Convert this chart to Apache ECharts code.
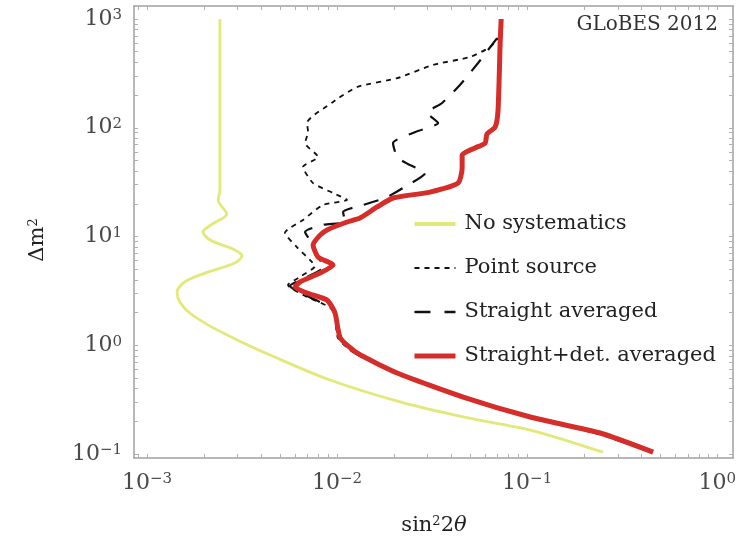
<!DOCTYPE html>
<html>
<head>
<meta charset="utf-8">
<script src="https://cdn.jsdelivr.net/npm/echarts@6.0.0/dist/echarts.min.js"></script>
<style>
  html, body { margin: 0; padding: 0; background: #fff; }
  #chart { width: 745px; height: 540px; }
</style>
</head>
<body>
<div id="chart"></div>
<script>
// axis ranges (frame sits a little outside the decades)
const xMin = 0.000855, xMax = 1.21;
const yMin = 0.0919, yMax = 1317;
const xMajor = [0.001, 0.01, 0.1, 1];
const yMajor = [0.1, 1, 10, 100, 1000];

// No systematics
const noSysX = [0.00242, 0.00242, 0.00237, 0.00263, 0.00220, 0.00197, 0.00215, 0.00290, 0.00316, 0.00290, 0.00202, 0.00158, 0.00144, 0.00149, 0.00168, 0.00215, 0.00308, 0.00444, 0.00918, 0.0215, 0.0461, 0.104, 0.25];
const noSysY = [1000, 26.8, 21.7, 16.1, 13.0, 11.0, 9.29, 7.52, 6.62, 5.70, 4.61, 3.82, 3.09, 2.50, 1.98, 1.50, 1.09, 0.813, 0.479, 0.301, 0.219, 0.166, 0.104];

// Point source
const pointX = [0.0721, 0.0639, 0.0501, 0.0320, 0.0207, 0.01275, 0.00953, 0.00695, 0.00704, 0.00679, 0.00794, 0.00662, 0.00748, 0.00953, 0.01129, 0.00844, 0.00662, 0.00532, 0.00615, 0.00721, 0.00766, 0.00638, 0.00552, 0.00679, 0.00953, 0.0101, 0.01229, 0.0203, 0.0455, 0.1013, 0.237, 0.448];
const pointY = [698, 553, 448, 378, 286, 237, 172.6, 110.7, 91.4, 72.4, 53.9, 43.6, 31.0, 25.1, 21.7, 19.5, 14.2, 10.8, 8.00, 6.08, 5.36, 4.25, 3.58, 2.84, 2.11, 1.17, 0.849, 0.556, 0.334, 0.219, 0.153, 0.104];

// Straight averaged
const straightX = [0.0695, 0.0552, 0.0443, 0.0357, 0.0298, 0.0340, 0.0258, 0.0197, 0.0207, 0.0236, 0.0291, 0.0222, 0.0179, 0.01371, 0.01076, 0.01101, 0.00844, 0.00679, 0.00748, 0.00794, 0.00865, 0.00679, 0.00566, 0.00679, 0.00953, 0.0103, 0.0124, 0.0205, 0.0455, 0.1025, 0.240, 0.454];
const straightY = [668, 394, 247, 169, 137, 110.7, 91.4, 72.4, 53.9, 46.4, 38.4, 27.9, 22.6, 19.5, 16.8, 13.6, 12.8, 11.0, 8.36, 6.34, 5.36, 4.15, 3.51, 2.90, 2.11, 1.17, 0.849, 0.556, 0.334, 0.219, 0.153, 0.104];

// Straight+det. averaged
const detX = [0.0730, 0.0721, 0.0703, 0.0679, 0.0615, 0.0601, 0.0532, 0.0455, 0.0455, 0.0433, 0.0308, 0.0197, 0.01625, 0.01321, 0.01129, 0.00886, 0.00814, 0.00748, 0.00794, 0.00953, 0.00814, 0.00638, 0.00601, 0.00695, 0.00886, 0.00976, 0.0104, 0.01275, 0.0207, 0.0461, 0.1038, 0.242, 0.460];
const detY = [1000, 601, 145.6, 101.6, 87.8, 72.4, 65.2, 56.1, 42.7, 31.0, 25.6, 22.6, 18.7, 14.8, 13.6, 11.5, 10.3, 8.36, 6.48, 5.47, 4.61, 3.82, 3.43, 3.02, 2.60, 1.98, 1.17, 0.849, 0.556, 0.334, 0.219, 0.156, 0.104];

const names = ['No systematics', 'Point source', 'Straight averaged', 'Straight+det. averaged'];
const colors = ['#e2e879', '#111', '#111', '#d42d2a'];

function zip(xs, ys) {
    return xs.map((x, i) => [x, ys[i]]);
}

// log ticks 1..9 x 10^n
function logTicks(lo, hi) {
    const out = [];
    for (let e = lo; e <= hi; e++) {
        for (let k = 1; k <= 9; k++) out.push(+(k * Math.pow(10, e)).toPrecision(3));
    }
    return out;
}
const xTicks = logTicks(-4, 0);
const yTicks = logTicks(-2, 3);

const serif = 'DejaVu Serif';
const labelRich = {
    b: { fontSize: 22, fontFamily: serif, color: '#4a4a4a' },
    s: { fontSize: 15, fontFamily: serif, color: '#4a4a4a', verticalAlign: 'top' }
};
function powLabel(v) {
    const e = Math.round(Math.log10(v));
    return '{b|10}{s|' + (e < 0 ? '\u2212' + (-e) : e) + '}';
}

const frameLine = { show: true, lineStyle: { color: '#a0a0a0', width: 1.5 } };
const tickStyle = (vals) => ({ show: true, inside: true, length: 4, customValues: vals, lineStyle: { color: '#b0b0b0', width: 1 } });

const chart = echarts.init(document.getElementById('chart'));
chart.setOption({
    animation: false,
    backgroundColor: '#fff',
    grid: { left: 134, right: 12, top: 6, bottom: 82 },
    legend: {
        orient: 'vertical',
        left: 412,
        top: 212,
        padding: 0,
        itemWidth: 41,
        itemHeight: 14,
        itemGap: 20,
        data: [
            { name: names[0], lineStyle: { width: 4 } },
            { name: names[1], lineStyle: { width: 1.8, type: [5, 5] } },
            { name: names[2], lineStyle: { width: 2.4, type: [16, 14] } },
            { name: names[3], lineStyle: { width: 5 } }
        ],
        itemStyle: { opacity: 0 },
        textStyle: { fontFamily: serif, fontSize: 21, color: '#222', lineHeight: 24, padding: [0, 0, 0, 4] }
    },
    xAxis: [{
        type: 'log', logBase: 10, min: xMin, max: xMax, position: 'bottom',
        axisLine: frameLine, axisTick: tickStyle(xTicks), splitLine: { show: false },
        axisLabel: { customValues: xMajor, formatter: powLabel, rich: labelRich, margin: 14 }
    }, {
        type: 'log', logBase: 10, min: xMin, max: xMax, position: 'top',
        axisLine: frameLine, axisTick: tickStyle(xTicks), splitLine: { show: false },
        axisLabel: { show: false }
    }],
    yAxis: [{
        type: 'log', logBase: 10, min: yMin, max: yMax, position: 'left',
        axisLine: frameLine, axisTick: tickStyle(yTicks), splitLine: { show: false },
        axisLabel: { customValues: yMajor, formatter: powLabel, rich: labelRich, margin: 12 },
        name: '{n|\u0394m}{s|2}',
        nameLocation: 'middle',
        nameRotate: 90,
        nameGap: 86,
        nameTextStyle: {
            padding: [0, 16, 0, 0],
            rich: {
                n: { fontFamily: serif, fontSize: 21, color: '#222' },
                s: { fontFamily: serif, fontSize: 13, color: '#222', verticalAlign: 'top' }
            }
        }
    }, {
        type: 'log', logBase: 10, min: yMin, max: yMax, position: 'right',
        axisLine: frameLine, axisTick: tickStyle(yTicks), splitLine: { show: false },
        axisLabel: { show: false }
    }],
    graphic: [{
        type: 'text', x: 718, y: 25,
        style: { text: 'GLoBES 2012', fontFamily: serif, fontSize: 20, fill: '#333', align: 'right', verticalAlign: 'middle' }
    }, {
        type: 'text', x: 434, y: 526,
        style: {
            text: '{n|sin}{s|2}{n|2}{i|\u03b8}',
            align: 'center', verticalAlign: 'middle',
            rich: {
                n: { fontFamily: serif, fontSize: 21, fill: '#222' },
                i: { fontFamily: serif, fontSize: 21, fontStyle: 'italic', fill: '#222' },
                s: { fontFamily: serif, fontSize: 13, fill: '#222', verticalAlign: 'top' }
            }
        }
    }],
    series: [{
        name: names[0], type: 'line', symbol: 'none', smooth: 0.3, z: 2,
        lineStyle: { color: colors[0], width: 2.8 }, itemStyle: { color: colors[0] },
        data: zip(noSysX, noSysY)
    }, {
        name: names[1], type: 'line', symbol: 'none', smooth: 0.2, z: 3,
        lineStyle: { color: colors[1], width: 1.8, type: [5, 5] }, itemStyle: { color: colors[1] },
        data: zip(pointX, pointY)
    }, {
        name: names[2], type: 'line', symbol: 'none', smooth: 0.2, z: 3,
        lineStyle: { color: colors[2], width: 2.2, type: [15, 12] }, itemStyle: { color: colors[2] },
        data: zip(straightX, straightY)
    }, {
        name: names[3], type: 'line', symbol: 'none', smooth: 0.2, z: 4,
        lineStyle: { color: colors[3], width: 5 }, itemStyle: { color: colors[3] },
        data: zip(detX, detY)
    }]
});
</script>
</body>
</html>
